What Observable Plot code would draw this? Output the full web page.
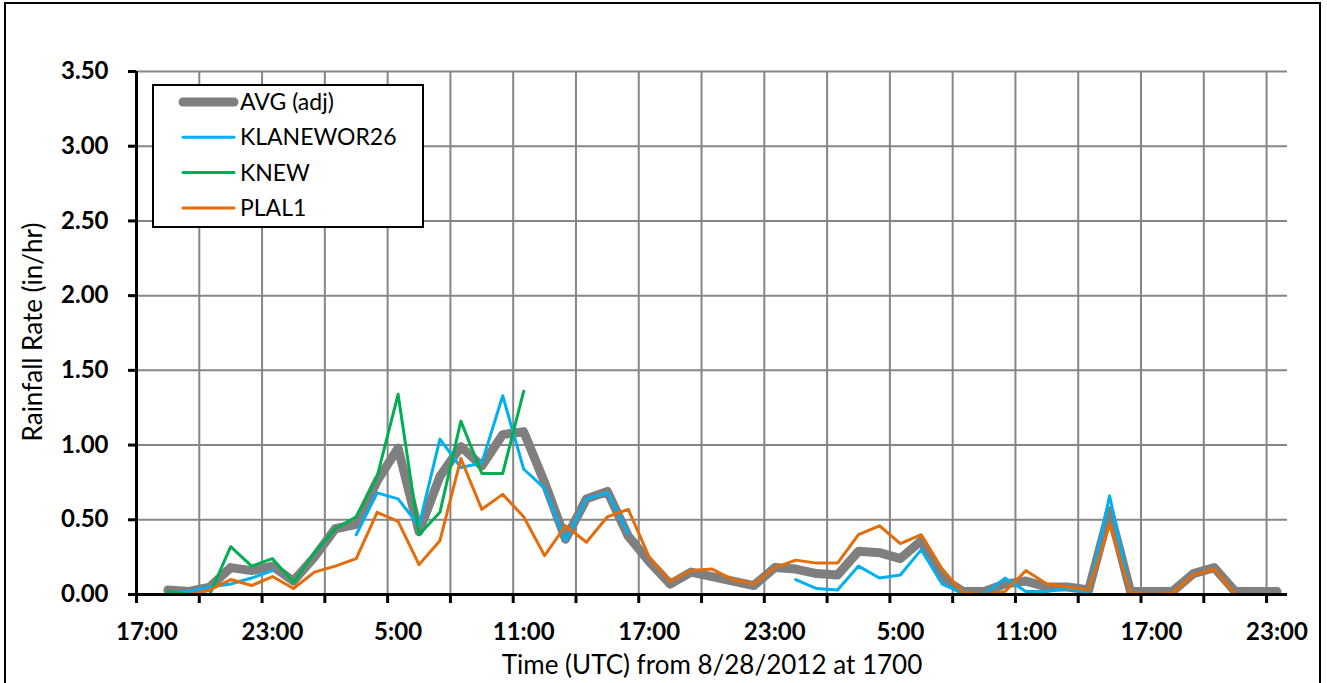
<!DOCTYPE html>
<html>
<head>
<meta charset="utf-8">
<script src="https://cdn.jsdelivr.net/npm/d3@7"></script>
<script src="https://cdn.jsdelivr.net/npm/@observablehq/plot@0.6"></script>
<style>
  html, body { margin: 0; padding: 0; background: #fff; }
  #wrap { position: relative; width: 1327px; height: 683px; overflow: hidden; font-family: Lato, "Open Sans", sans-serif; }
  #border { position: absolute; left: 4px; top: 2px; width: 1317px; height: 690px; border: 2px solid #000; box-sizing: border-box; pointer-events: none; }
  #legend { position: absolute; left: 152px; top: 84px; }
  .title { position: absolute; font-size: 26px; color: #000; white-space: nowrap; }
</style>
</head>
<body>
<div id="wrap"></div>
<script>
// ---- data (hourly, index 0 = 17:00 on 8/28/2012) ----
const hourLabels = ["17:00","23:00","5:00","11:00","17:00","23:00","5:00","11:00","17:00","23:00"];
const seriesNames = ["AVG (adj)", "KLANEWOR26", "KNEW", "PLAL1"];
const seriesColors = ["#7f7f7f", "#00b0f0", "#00b050", "#e46c0a"];
const avgAdj = [null,0.03,0.02,0.05,0.18,0.16,0.19,0.09,0.25,0.44,0.47,0.76,0.98,0.42,0.79,0.99,0.86,1.07,1.09,0.75,0.37,0.64,0.69,0.39,0.22,0.07,0.15,0.12,0.09,0.06,0.18,0.17,0.14,0.13,0.29,0.28,0.24,0.36,0.11,0.02,0.02,0.07,0.09,0.05,0.05,0.03,0.56,0.02,0.02,0.02,0.14,0.18,0.02,0.02,0.02];
const klanewor26 = [null,0.01,0.02,0.05,0.07,0.11,0.16,null,null,null,0.40,0.68,0.64,0.46,1.04,0.85,0.88,1.33,0.84,0.71,0.36,0.64,0.68,0.41,null,null,null,null,null,null,null,0.10,0.04,0.03,0.19,0.11,0.13,0.30,0.07,0.01,0.00,0.11,0.02,0.02,0.04,0.01,0.66,0.00,null,null,null,null,null,null,null];
const knew = [null,0.02,0.00,0.00,0.32,0.19,0.24,0.08,0.28,0.44,0.52,0.79,1.34,0.40,0.55,1.16,0.81,0.81,1.36,null,null,null,null,null,null,null,null,null,null,null,null,null,null,null,null,null,null,null,null,null,null,null,null,null,null,null,null,null,null,null,null,null,null,null,null];
const plal1 = [null,0.00,0.00,0.03,0.10,0.06,0.12,0.04,0.15,0.19,0.24,0.55,0.49,0.20,0.36,0.91,0.57,0.67,0.52,0.26,0.46,0.35,0.52,0.57,0.25,0.09,0.16,0.17,0.10,0.07,0.18,0.23,0.21,0.21,0.40,0.46,0.34,0.40,0.17,0.01,0.00,0.02,0.16,0.07,0.05,0.03,0.47,0.01,0.00,0.01,0.13,0.17,0.00,0.00,0.00];
const yTicks = [0, 0.5, 1, 1.5, 2, 2.5, 3, 3.5];

const nCats = 55;
const seriesValues = [avgAdj, klanewor26, knew, plal1];
const seriesWidths = [9, 3, 3, 3];

const toRows = (vals) => vals.map((v, i) => ({x: i + 0.5, y: v}));

const labelPos = hourLabels.map((_, k) => k * 6 + 0.5);
const labelMap = new Map(labelPos.map((p, k) => [p, hourLabels[k]]));

const chart = Plot.plot({
  width: 1327,
  height: 683,
  marginLeft: 136,
  marginRight: 40,
  marginTop: 71,
  marginBottom: 89,
  style: {fontFamily: "Lato, 'Open Sans', sans-serif", background: "transparent", color: "#000"},
  x: {domain: [0, nCats], axis: null},
  y: {domain: [0, 3.5], axis: null},
  marks: [
    Plot.gridY(yTicks.filter(d => d > 0), {stroke: "#868686", strokeOpacity: 1, strokeWidth: 2}),
    Plot.gridX(d3.range(3, nCats, 3), {stroke: "#868686", strokeOpacity: 1, strokeWidth: 2}),
    ...seriesValues.map((vals, s) => Plot.line(toRows(vals), {
      x: "x", y: "y", stroke: seriesColors[s], strokeWidth: seriesWidths[s],
      strokeLinejoin: "round", strokeLinecap: "round"
    })),
    Plot.ruleX([0], {stroke: "#000", strokeWidth: 3}),
    Plot.ruleY([0], {stroke: "#000", strokeWidth: 3}),
    Plot.axisY(yTicks, {tickSize: 8, tickPadding: 20, strokeWidth: 3, tickFormat: d3.format(".2f"),
      fontSize: 24, fontWeight: "bold", label: null}),
    Plot.axisX(d3.range(0, nCats, 3), {tickSize: 9, strokeWidth: 3, tickFormat: () => "", label: null}),
    Plot.axisX(labelPos, {tickSize: 0, tickPadding: 28, tickFormat: d => labelMap.get(d),
      fontSize: 24, fontWeight: "bold", label: null})
  ]
});

const wrap = document.getElementById("wrap");
chart.style.position = "absolute";
chart.style.left = "0px";
chart.style.top = "0px";
wrap.appendChild(chart);

// axis titles
const xt = document.createElement("div");
xt.className = "title";
xt.textContent = "Time (UTC) from 8/28/2012 at 1700";
xt.style.left = "712px"; xt.style.top = "664px";
xt.style.transform = "translate(-50%, -50%)";
wrap.appendChild(xt);

const yt = document.createElement("div");
yt.className = "title";
yt.textContent = "Rainfall Rate (in/hr)";
yt.style.left = "32px"; yt.style.top = "332px";
yt.style.transform = "translate(-50%, -50%) rotate(-90deg)";
wrap.appendChild(yt);

// legend
const lw = 272, lh = 144;
const leg = d3.create("svg").attr("id", "legend").attr("width", lw).attr("height", lh);
leg.append("rect").attr("x", 1).attr("y", 1).attr("width", lw - 2).attr("height", lh - 2)
  .attr("fill", "#fff").attr("stroke", "#000").attr("stroke-width", 2);
seriesNames.forEach((name, s) => {
  const cy = 18 + s * 35.3;
  leg.append("line").attr("x1", 31).attr("x2", 82)
    .attr("y1", cy).attr("y2", cy)
    .attr("stroke", seriesColors[s]).attr("stroke-width", seriesWidths[s])
    .attr("stroke-linecap", "round");
  leg.append("text").attr("x", 88).attr("y", cy).attr("dy", "0.35em")
    .attr("font-family", "Lato, 'Open Sans', sans-serif").attr("font-size", 23)
    .attr("fill", "#000").text(name);
});
wrap.appendChild(leg.node());

const border = document.createElement("div");
border.id = "border";
wrap.appendChild(border);
</script>
</body>
</html>
